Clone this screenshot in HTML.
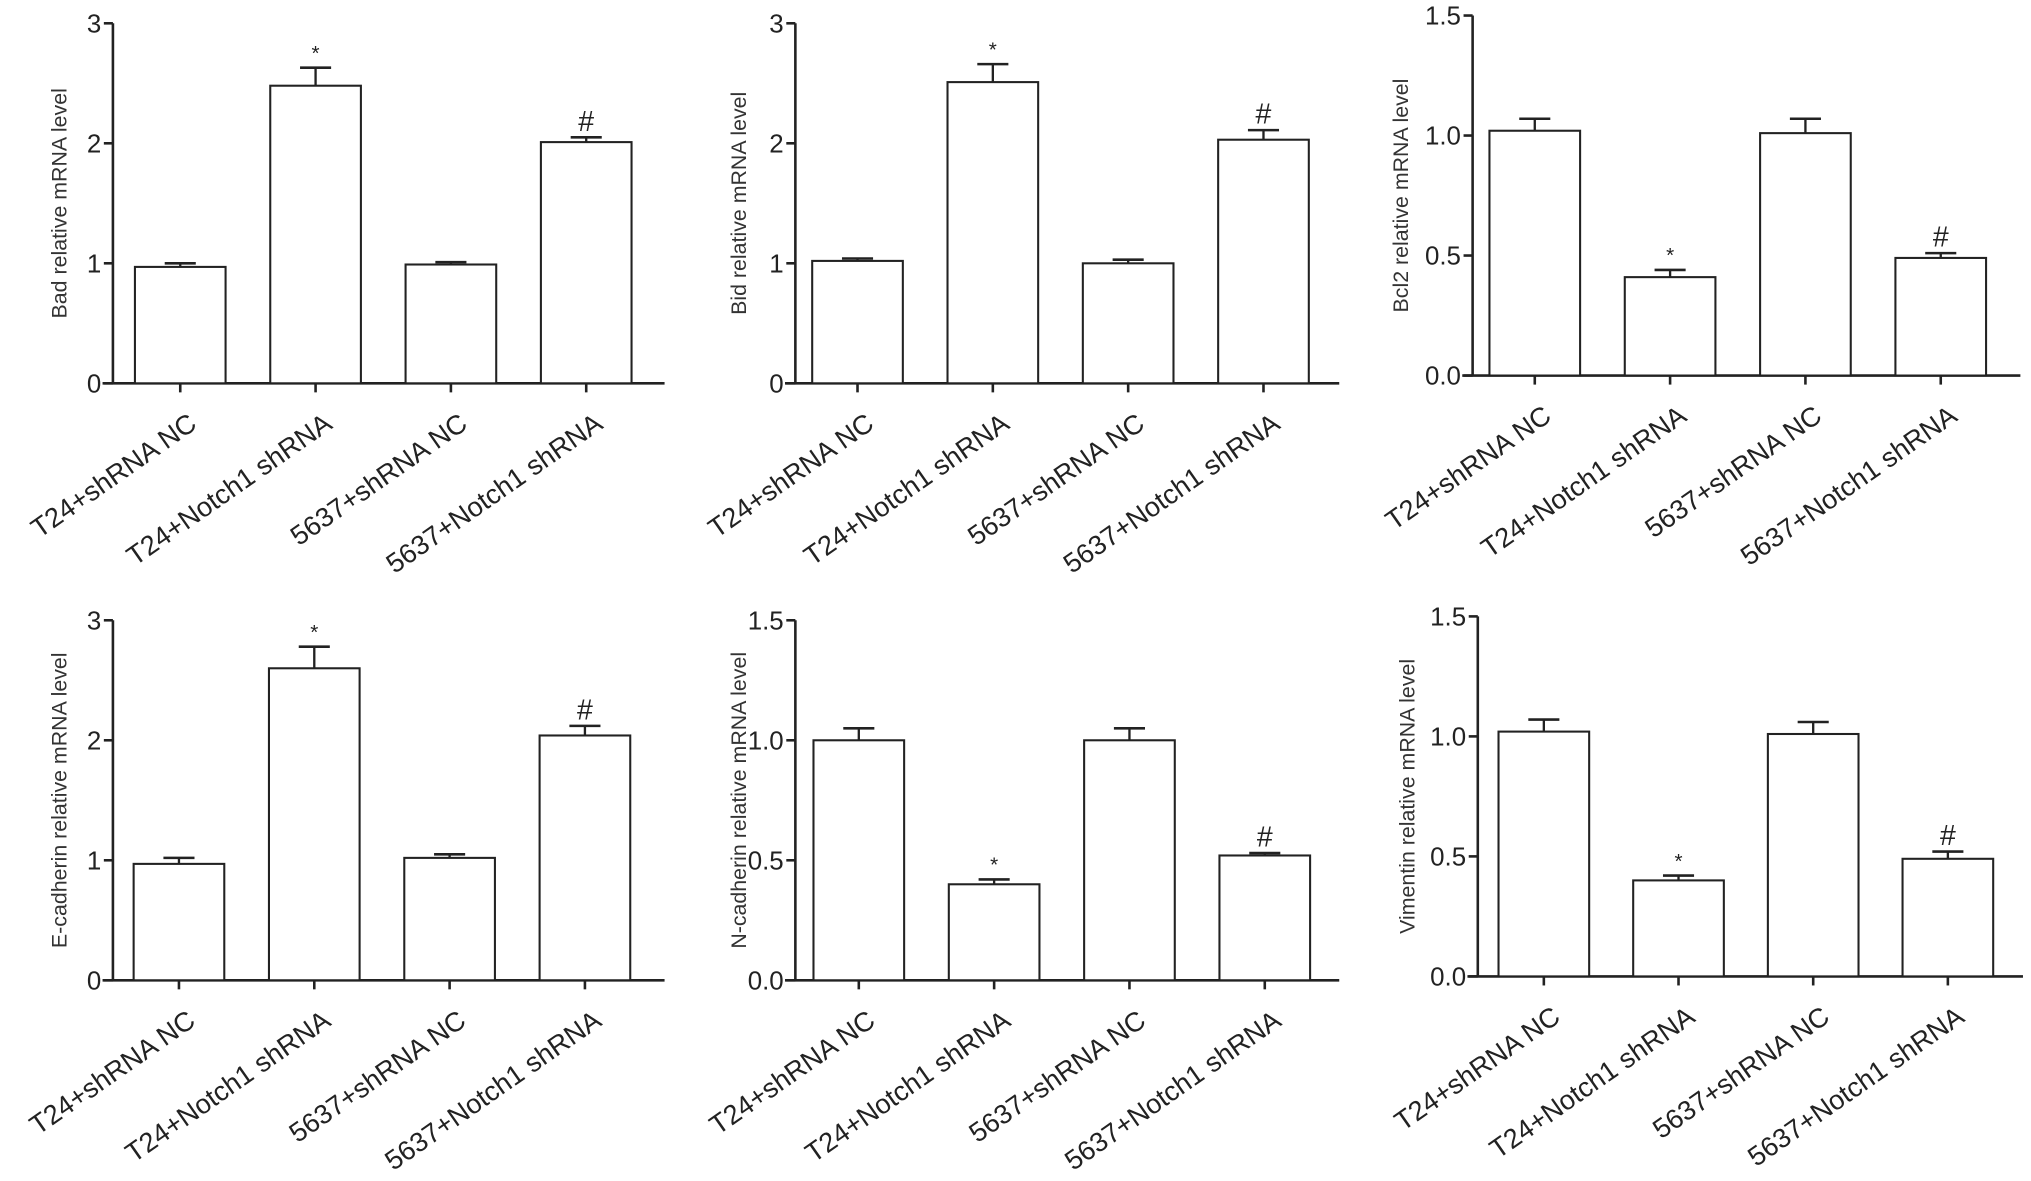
<!DOCTYPE html>
<html><head><meta charset="utf-8"><style>
html,body{margin:0;padding:0;background:#fff;}
svg{display:block;font-family:"Liberation Sans",Arial,sans-serif;}
</style></head><body>
<svg id="fig" width="2031" height="1181" viewBox="0 0 1568 912" xmlns="http://www.w3.org/2000/svg"></svg>
<script>
const categories = ["T24+shRNA NC","T24+Notch1 shRNA","5637+shRNA NC","5637+Notch1 shRNA"];
const badValues = [0.97,2.48,0.99,2.01];
const badErrors = [0.03,0.15,0.02,0.04];
const bidValues = [1.02,2.51,1.00,2.03];
const bidErrors = [0.02,0.15,0.03,0.08];
const bcl2Values = [1.02,0.41,1.01,0.49];
const bcl2Errors = [0.05,0.03,0.06,0.02];
const ecadValues = [0.97,2.60,1.02,2.04];
const ecadErrors = [0.05,0.18,0.03,0.08];
const ncadValues = [1.00,0.40,1.00,0.52];
const ncadErrors = [0.05,0.02,0.05,0.01];
const vimValues = [1.02,0.40,1.01,0.49];
const vimErrors = [0.05,0.02,0.05,0.03];
const marks = ["","*","","#"];
const ticksInt = ["0","1","2","3"];
const ticksDec = ["0.0","0.5","1.0","1.5"];

const NS="http://www.w3.org/2000/svg";
const svg=document.getElementById('fig');
function mk(tag,attrs,parent){const e=document.createElementNS(NS,tag);for(const k in attrs)e.setAttribute(k,attrs[k]);(parent||svg).appendChild(e);return e;}

const panels=[
 {name:"bad",title:"Bad relative mRNA  level",vals:badValues,errs:badErrors,ticks:ticksInt,max:3,ax:87,top:18,zero:296,first:139,step:104.5,end:513,tx:45},
 {name:"bid",title:"Bid relative mRNA level",vals:bidValues,errs:bidErrors,ticks:ticksInt,max:3,ax:614,top:18,zero:296,first:662,step:104.5,end:1034,tx:570},
 {name:"bcl2",title:"Bcl2 relative mRNA level",vals:bcl2Values,errs:bcl2Errors,ticks:ticksDec,max:1.5,ax:1137,top:12,zero:290,first:1185,step:104.5,end:1560,tx:1081},
 {name:"e-cadherin",title:"E-cadherin relative mRNA level",vals:ecadValues,errs:ecadErrors,ticks:ticksInt,max:3,ax:87,top:479,zero:757,first:138,step:104.5,end:513,tx:45},
 {name:"n-cadherin",title:"N-cadherin relative  mRNA level",vals:ncadValues,errs:ncadErrors,ticks:ticksDec,max:1.5,ax:614,top:479,zero:757,first:663,step:104.5,end:1034,tx:570},
 {name:"vimentin",title:"Vimentin relative mRNA  level",vals:vimValues,errs:vimErrors,ticks:ticksDec,max:1.5,ax:1141,top:476,zero:754,first:1192,step:104,end:1562,tx:1086}
];

panels.forEach(p=>{
 const g=mk('g',{});
 
 
 const y=v=>p.zero-(v/p.max)*(p.zero-p.top);
 const x=i=>p.first+i*p.step;
 const ya=mk('line',{x1:p.ax,y1:p.top,x2:p.ax,y2:p.zero,stroke:'#222','stroke-width':2},g);
 
 
 const xa=mk('line',{x1:p.ax-8,y1:p.zero,x2:p.end,y2:p.zero,stroke:'#222','stroke-width':2},g);
 
 
 p.ticks.forEach((t,i)=>{
  const v=p.max*i/(p.ticks.length-1);
  mk('line',{x1:p.ax-7,y1:y(v),x2:p.ax,y2:y(v),stroke:'#222','stroke-width':2},g);
  const tl=mk('text',{x:p.ax-9,y:y(v)+7,'text-anchor':'end','font-size':20,fill:'#222'},g);
  tl.textContent=t;
  
  
 });
 const tt=mk('text',{transform:`translate(${p.tx+6},${(p.top+p.zero)/2}) rotate(-90)`,'text-anchor':'middle','font-size':16.5,fill:'#333'},g);
 tt.textContent=p.title;
 
 
 categories.forEach((c,i)=>{
  const cx=x(i),v=p.vals[i],e=p.errs[i];
  const b=mk('rect',{x:cx-35,y:y(v),width:70,height:p.zero-y(v),fill:'#fff',stroke:'#222','stroke-width':1.6},g);
  
  
  mk('line',{x1:cx,y1:y(v),x2:cx,y2:y(v+e),stroke:'#222','stroke-width':1.8},g);
  const cap=mk('line',{x1:cx-12,y1:y(v+e),x2:cx+12,y2:y(v+e),stroke:'#222','stroke-width':2},g);
  
  
  mk('line',{x1:cx,y1:p.zero,x2:cx,y2:p.zero+7,stroke:'#222','stroke-width':2},g);
  if(marks[i]){
   const m=mk('text',{x:cx,y:y(v+e)-(marks[i]=='*'?6:5),'text-anchor':'middle','font-size':marks[i]=='*'?16:22,fill:'#222'},g);
   m.textContent=marks[i];
   
   
  }
  const l=mk('text',{transform:`translate(${cx+14},${p.zero+34}) rotate(-35)`,'text-anchor':'end','font-size':21,fill:'#222'},g);
  l.textContent=c;
  
  
 });
});
</script>
</body></html>
